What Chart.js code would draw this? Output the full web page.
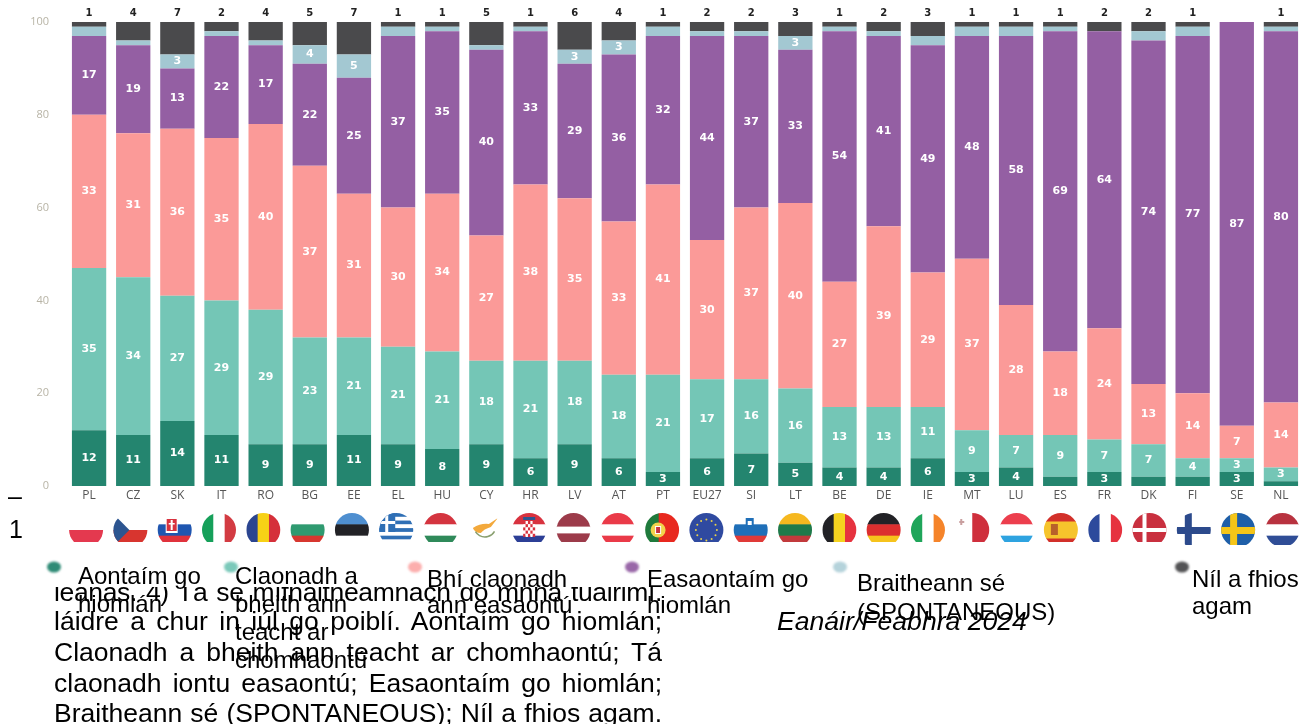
<!DOCTYPE html>
<html><head><meta charset="utf-8">
<script src="https://cdn.jsdelivr.net/npm/chart.js@4/dist/chart.umd.min.js"></script>
<style>
html,body{margin:0;padding:0;background:#fff;overflow:hidden;width:1300px;height:724px}
#wrap{position:absolute;left:0;top:0;width:1303px;height:724px}
.t{position:absolute;font-family:"Liberation Sans",Arial,sans-serif;color:#000;white-space:nowrap;line-height:1}
.j{left:54px;width:608px;font-size:26.5px;white-space:normal;text-align:justify;text-align-last:justify}
#clip{position:absolute;left:0;top:587px;width:700px;height:40px;overflow:hidden}
</style></head><body>
<div id="wrap"><canvas id="c" width="1303" height="724"></canvas></div>
<div class="t" style="left:8px;top:484px;font-size:25px">–</div>
<div class="t" style="left:9px;top:517px;font-size:25px">1</div>
<div id="clip"><div class="t j" style="top:-8px;letter-spacing:-0.35px">leanas. 4) Tá sé mífhaitneamnach do mhná tuairimí.</div></div>
<div class="t j" style="top:608px">láidre a chur in iúl go poiblí. Aontaím go hiomlán;</div>
<div class="t j" style="top:639px">Claonadh a bheith ann teacht ar chomhaontú; Tá</div>
<div class="t j" style="top:670px">claonadh iontu easaontú; Easaontaím go hiomlán;</div>
<div class="t j" style="top:700px">Braitheann sé (SPONTANEOUS); Níl a fhios agam.</div>
<div class="t" style="left:777px;top:608px;font-size:26.6px;font-style:italic">Eanáir/Feabhra 2024</div>
<div class="t" style="left:78px;top:564px;font-size:24px">Aontaím go</div>
<div class="t" style="left:78px;top:592px;font-size:24px">hiomlán</div>
<div class="t" style="left:235px;top:564px;font-size:24px">Claonadh a</div>
<div class="t" style="left:235px;top:592px;font-size:24px">bheith ann</div>
<div class="t" style="left:235px;top:620px;font-size:24px">teacht ar</div>
<div class="t" style="left:235px;top:648px;font-size:24px">chomhaontú</div>
<div class="t" style="left:427px;top:567px;font-size:24px">Bhí claonadh</div>
<div class="t" style="left:427px;top:593px;font-size:24px">ann easaontú</div>
<div class="t" style="left:647px;top:567px;font-size:24px">Easaontaím go</div>
<div class="t" style="left:647px;top:593px;font-size:24px">hiomlán</div>
<div class="t" style="left:857px;top:571px;font-size:24px">Braitheann sé</div>
<div class="t" style="left:857px;top:600px;font-size:24px">(SPONTANEOUS)</div>
<div class="t" style="left:1192px;top:567px;font-size:24px">Níl a fhios</div>
<div class="t" style="left:1192px;top:594px;font-size:24px">agam</div>
<script>
const categories = ["PL","CZ","SK","IT","RO","BG","EE","EL","HU","CY","HR","LV","AT","PT","EU27","SI","LT","BE","DE","IE","MT","LU","ES","FR","DK","FI","SE","NL"];
const totallyAgree = [12,11,14,11,9,9,11,9,8,9,6,9,6,3,6,7,5,4,4,6,3,4,2,3,2,2,3,1];
const tendAgree    = [35,34,27,29,29,23,21,21,21,18,21,18,18,21,17,16,16,13,13,11,9,7,9,7,7,4,3,3];
const tendDisagree = [33,31,36,35,40,37,31,30,34,27,38,35,33,41,30,37,40,27,39,29,37,28,18,24,13,14,7,14];
const totallyDisagree = [17,19,13,22,17,22,25,37,35,40,33,29,36,32,44,37,33,54,41,49,48,58,69,64,74,77,87,80];
const depends = [2,1,3,1,1,4,5,2,1,1,1,3,3,2,1,1,3,1,1,2,2,2,1,0,2,2,0,1];
const dontKnow = [1,4,7,2,4,5,7,1,1,5,1,6,4,1,2,2,3,1,2,3,1,1,1,2,2,1,0,1];
const yTicks = [0,20,40,60,80,100];
const seriesColors = ["#24856f","#74c6b6","#fb9a98","#945fa3","#a3c8d2","#4a4a4c"];
const legendDots = [54,231,415,632,840,1182];

const R="#d8323f",W="#ffffff",B="#2f4d9a";
function hb(c,x,t,cols,hs){let y=t;const tot=hs?hs.reduce((a,b)=>a+b):cols.length;cols.forEach((k,i)=>{const h=34*(hs?hs[i]:1)/tot;c.fillStyle=k;c.fillRect(x-18,y,36,h+.5);y+=h;});}
function vb(c,x,t,cols,ws){let p=x-17;const tot=ws?ws.reduce((a,b)=>a+b):cols.length;cols.forEach((k,i)=>{const w=34*(ws?ws[i]:1)/tot;c.fillStyle=k;c.fillRect(p,t,w+.5,36);p+=w;});}
function rect(c,k,x,y,w,h){c.fillStyle=k;c.fillRect(x,y,w,h);}
const flags={
PL:(c,x,t)=>hb(c,x,t,[W,"#e4394f"]),
CZ:(c,x,t)=>{hb(c,x,t,[W,"#d8352f"]);c.fillStyle="#2c5590";c.beginPath();c.moveTo(x-18,t);c.lineTo(x-1,t+17);c.lineTo(x-18,t+34);c.fill();},
SK:(c,x,t)=>{hb(c,x,t,[W,"#1f56b0","#e0323c"]);rect(c,W,x-9,t+5,12,15);rect(c,"#d8323f",x-8,t+6,10,12);rect(c,W,x-4,t+7,2,10);rect(c,W,x-6,t+10,6,1.5);},
IT:(c,x,t)=>vb(c,x,t,["#16a05a",W,"#d33b42"]),
RO:(c,x,t)=>vb(c,x,t,["#2b4590","#f7d116","#d5303a"]),
BG:(c,x,t)=>hb(c,x,t,[W,"#2f9a70","#d7372f"]),
EE:(c,x,t)=>hb(c,x,t,["#4f8fd0","#222226",W]),
EL:(c,x,t)=>{for(let i=0;i<9;i++){rect(c,i%2?W:"#2f6fb5",x-18,t+i*34/9,36,34/9+.3);}rect(c,"#2f6fb5",x-18,t,17,19);rect(c,W,x-11,t,3,19);rect(c,W,x-18,t+8,17,3);},
HU:(c,x,t)=>hb(c,x,t,["#d4343f",W,"#2f8a5a"]),
CY:(c,x,t)=>{c.fillStyle="#f3a93c";c.beginPath();c.moveTo(x-12,t+15);c.quadraticCurveTo(x-4,t+10,x+4,t+11);c.lineTo(x+13,t+5);c.lineTo(x+6,t+14);c.quadraticCurveTo(x-1,t+16,x-4,t+20);c.quadraticCurveTo(x-10,t+20,x-12,t+15);c.fill();c.strokeStyle="#8aa070";c.lineWidth=1.5;c.beginPath();c.arc(x,t+13,11,.5,2.6);c.stroke();},
HR:(c,x,t)=>{hb(c,x,t,["#d8323f",W,"#2c3f96"]);for(let i=0;i<5;i++)for(let j=0;j<5;j++){rect(c,(i+j)%2?W:"#d8323f",x-6+i*2.4,t+8+j*3.2,2.4,3.2);}rect(c,"#2c5590",x-6,t+4,12,3);},
LV:(c,x,t)=>hb(c,x,t,["#9c3b4a",W,"#9c3b4a"],[2,1,2]),
AT:(c,x,t)=>hb(c,x,t,["#ea3a48",W,"#ea3a48"]),
PT:(c,x,t)=>{vb(c,x,t,["#1f7a3c","#e8281f"],[2,3]);c.fillStyle="#f2d34c";c.beginPath();c.arc(x-4,t+17,7.5,0,7);c.fill();rect(c,W,x-7,t+13,6,8);rect(c,"#c8323f",x-6,t+14,4,6);},
EU27:(c,x,t)=>{rect(c,"#2f4aa0",x-18,t-2,36,38);c.fillStyle="#e8d24c";for(let i=0;i<12;i++){const a=i*Math.PI/6;c.beginPath();c.arc(x+10.5*Math.cos(a),t+17+10.5*Math.sin(a),1,0,7);c.fill();}},
SI:(c,x,t)=>{hb(c,x,t,[W,"#1f6fb8","#e03a38"]);rect(c,"#1f6fb8",x-5,t+5,8,9);rect(c,W,x-3,t+8,4,4);},
LT:(c,x,t)=>hb(c,x,t,["#f6b81f","#1f7a4a","#c23a3c"]),
BE:(c,x,t)=>vb(c,x,t,["#222226","#f5d31f","#e6323f"]),
DE:(c,x,t)=>hb(c,x,t,["#222226","#dc2f2f","#f6c31c"]),
IE:(c,x,t)=>vb(c,x,t,["#1fa55a",W,"#f5842a"]),
MT:(c,x,t)=>{vb(c,x,t,[W,"#cf2f3c"]);rect(c,"#c9a0a0",x-13,t+8,5,2);rect(c,"#c9a0a0",x-12,t+6,2,6);},
LU:(c,x,t)=>hb(c,x,t,["#ec3e4d",W,"#2ea3e0"]),
ES:(c,x,t)=>{hb(c,x,t,["#d2302a","#f6c42c","#d2302a"],[1,2,1]);rect(c,"#b8602a",x-10,t+11,7,11);},
FR:(c,x,t)=>vb(c,x,t,["#2d4a9c",W,"#e6323f"]),
DK:(c,x,t)=>{rect(c,"#c9303f",x-18,t-2,36,38);rect(c,W,x-18,t+15,36,4);rect(c,W,x-7,t-2,4,38);},
FI:(c,x,t)=>{rect(c,W,x-18,t-2,36,38);rect(c,"#2c4a8c",x-18,t+14,36,7);rect(c,"#2c4a8c",x-9,t-2,7,38);},
SE:(c,x,t)=>{rect(c,"#1f5fa8",x-18,t-2,36,38);rect(c,"#f5c518",x-18,t+14,36,7);rect(c,"#f5c518",x-8,t-2,7,38);},
NL:(c,x,t)=>hb(c,x,t,["#b8323f",W,"#2f4d96"])
};

const overlay={id:"overlay",
afterDatasetsDraw(chart){
  const c=chart.ctx;
  chart.data.datasets.forEach((ds,di)=>{
    const meta=chart.getDatasetMeta(di);
    meta.data.forEach((bar,i)=>{
      const v=ds.data[i];
      c.save();c.textAlign="center";c.textBaseline="middle";
      if(di===5){
        if(v>0){c.font="bold 10px 'DejaVu Sans'";c.fillStyle="#222";c.fillText(v,bar.x,13);}
      }else if(v>=3){
        c.font="bold 11px 'DejaVu Sans'";c.fillStyle="#fff";c.fillText(v,bar.x,(bar.y+bar.base)/2);
      }
      c.restore();
    });
  });
},
afterDraw(chart){
  const c=chart.ctx,sx=chart.scales.x;
  categories.forEach((k,i)=>{
    const x=sx.getPixelForTick(i)-3+4.5*i/27, t=513, cy=530;
    const clipB=i>=25?545:542;
    c.save();
    c.beginPath();c.rect(x-18,t-1,36,clipB-t+1);c.clip();
    c.beginPath();c.arc(x,cy,17,0,Math.PI*2);c.clip();
    flags[k](c,x,t);
    c.restore();
  });
  legendDots.forEach((x,i)=>{
    c.save();c.filter="blur(1px)";c.fillStyle=seriesColors[i];c.globalAlpha=i===2||i===4?.8:.95;
    c.beginPath();c.ellipse(x,567,7,5.5,0,0,7);c.fill();c.restore();
  });
}};

const names=["Aontaím go hiomlán","Claonadh a bheith ann teacht ar chomhaontú","Bhí claonadh ann easaontú","Easaontaím go hiomlán","Braitheann sé (SPONTANEOUS)","Níl a fhios agam"];
const seriesData=[totallyAgree,tendAgree,tendDisagree,totallyDisagree,depends,dontKnow];
new Chart(document.getElementById("c"),{
  type:"bar",
  data:{labels:categories,datasets:seriesData.map((d,i)=>({label:names[i],data:d,backgroundColor:seriesColors[i],borderWidth:0,barPercentage:.777,categoryPercentage:1}))},
  plugins:[overlay],
  options:{
    responsive:false,animation:false,
    layout:{padding:{top:22,left:0,right:0,bottom:0}},
    plugins:{legend:{display:false},tooltip:{enabled:false}},
    scales:{
      x:{stacked:true,grid:{display:false,drawTicks:false},border:{display:false},
         afterFit(s){s.height=238;},
         ticks:{color:"#555",padding:2,maxRotation:0,autoSkip:false,font:{family:"'Open Sans'",size:12}}},
      y:{stacked:true,min:0,max:100,grid:{display:false,drawTicks:false},border:{display:false},
         afterFit(s){s.width=67;s.paddingTop=0;s.paddingBottom=0;},
         afterBuildTicks(s){s.ticks=yTicks.map(v=>({value:v}));},
         ticks:{color:"#b8b4a6",padding:18,font:{family:"'Open Sans'",size:11}}}
    }
  }
});
</script>
</body></html>
